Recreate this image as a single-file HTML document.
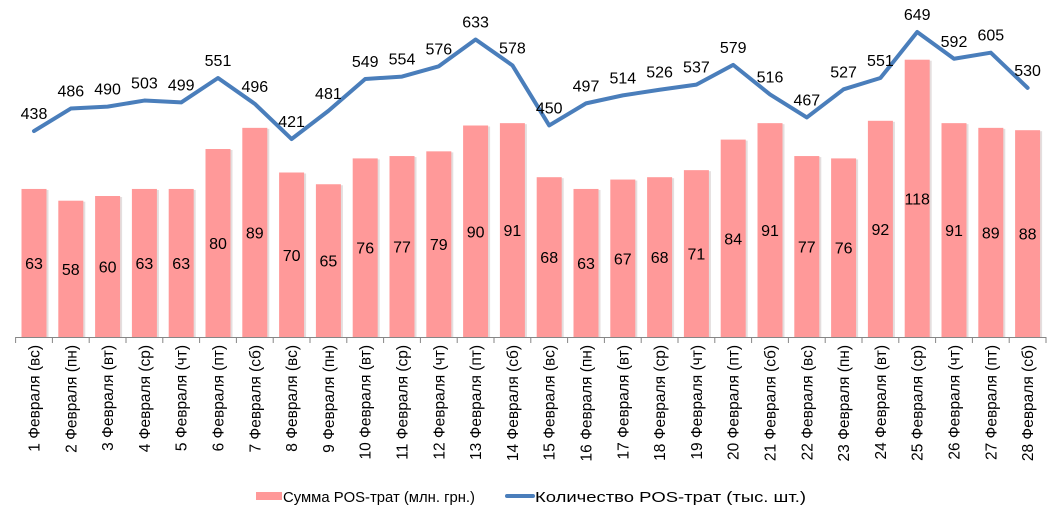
<!DOCTYPE html>
<html><head><meta charset="utf-8">
<style>
html,body{margin:0;padding:0;background:#fff;}
svg{display:block;font-family:"Liberation Sans",sans-serif;}
</style></head>
<body>
<svg id="chart" width="1055" height="516" viewBox="0 0 1055 516"></svg>
<script>
const categories = ["1 Февраля (вс)","2 Февраля (пн)","3 Февраля (вт)","4 Февраля (ср)","5 Февраля (чт)","6 Февраля (пт)","7 Февраля (сб)","8 Февраля (вс)","9 Февраля (пн)","10 Февраля (вт)","11 Февраля (ср)","12 Февраля (чт)","13 Февраля (пт)","14 Февраля (сб)","15 Февраля (вс)","16 Февраля (пн)","17 Февраля (вт)","18 Февраля (ср)","19 Февраля (чт)","20 Февраля (пт)","21 Февраля (сб)","22 Февраля (вс)","23 Февраля (пн)","24 Февраля (вт)","25 Февраля (ср)","26 Февраля (чт)","27 Февраля (пт)","28 Февраля (сб)"];
const sumValues = [63,58,60,63,63,80,89,70,65,76,77,79,90,91,68,63,67,68,71,84,91,77,76,92,118,91,89,88];
const countValues = [438,486,490,503,499,551,496,421,481,549,554,576,633,578,450,497,514,526,537,579,516,467,527,551,649,592,605,530];

const NS="http://www.w3.org/2000/svg";
const svg=document.getElementById('chart');
const left=15.6, right=1046, base=337;
const bw=(right-left)/categories.length;
function xc(i){return left+bw*(i+0.5);}
function yBar(v){return base-v*2.35;}
function yLine(v){return 336.6-v*0.4693;}
function mk(tag,attrs){const e=document.createElementNS(NS,tag);for(const k in attrs)e.setAttribute(k,attrs[k]);svg.appendChild(e);return e;}

sumValues.forEach((v,i)=>{
  const x=xc(i)-12.5, y=yBar(v);
  const sh=mk('rect',{x:x+2,y:y+1,width:25,height:base-y-1,fill:'#e4dede'});
  
  
  const r=mk('rect',{x:x,y:y,width:25,height:base-y,fill:'#ff9999'});
  
  
  const t=mk('text',{x:xc(i),y:(y+base)/2+6,'text-anchor':'middle','font-size':'16',fill:'#000'});
  t.textContent=v;
  
  
});

const ax=mk('line',{x1:left,y1:base+0.5,x2:right,y2:base+0.5,stroke:'#868686','stroke-width':1});


for(let i=0;i<=categories.length;i++){
  const x=left+bw*i;
  const tk=mk('line',{x1:x,y1:base,x2:x,y2:base+6,stroke:'#868686','stroke-width':1});
  
  
}
categories.forEach((c,i)=>{
  const x=xc(i)+5.5;
  const t=mk('text',{x:0,y:0,'text-anchor':'end','font-size':'15.5',fill:'#000',transform:`translate(${x},345) rotate(-90)`});
  t.textContent=c;
  
  
});

const pts=countValues.map((v,i)=>xc(i)+','+yLine(v)).join(' ');
const pl=mk('polyline',{points:pts,fill:'none',stroke:'#4a7ebb','stroke-width':4,'stroke-linejoin':'round','stroke-linecap':'round'});


countValues.forEach((v,i)=>{
  const t=mk('text',{x:xc(i),y:yLine(v)-12,'text-anchor':'middle','font-size':'16',fill:'#000'});
  t.textContent=v;
  
  
});

const g1=mk('rect',{x:256,y:492,width:26,height:8,fill:'#ff9999'});


const l1=mk('text',{x:283,y:502,'font-size':'15',fill:'#000',textLength:192,lengthAdjust:'spacingAndGlyphs'});
l1.textContent='Сумма POS-трат (млн. грн.)';


const g2=mk('line',{x1:507,y1:496,x2:533,y2:496,stroke:'#4a7ebb','stroke-width':4,'stroke-linecap':'round'});


const l2=mk('text',{x:535,y:502,'font-size':'15',fill:'#000',textLength:271,lengthAdjust:'spacingAndGlyphs'});
l2.textContent='Количество POS-трат (тыс. шт.)';


</script>
</body></html>
